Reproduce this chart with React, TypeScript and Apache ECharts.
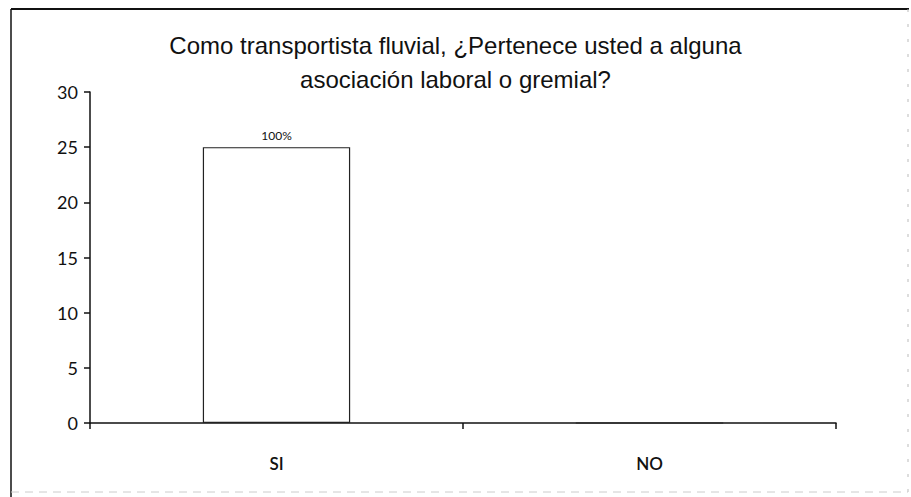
import React, { useEffect, useRef } from "react";
import * as echarts from "echarts";

const categories = ["SI", "NO"];
const values = [25, 0];
const barLabels = ["100%", ""];
const titleText = "Como transportista fluvial, ¿Pertenece usted a alguna\nasociación laboral o gremial?";
const yMin = 0;
const yMax = 30;
const yInterval = 5;

export default function App() {
  const ref = useRef<HTMLDivElement>(null);
  useEffect(() => {
    if (!ref.current) return;
    const chart = echarts.init(ref.current, null, { renderer: "svg" });
    chart.setOption({
      animation: false,
      backgroundColor: "#ffffff",
      title: {
        text: titleText,
        left: "center",
        top: 28,
        padding: 0,
        textStyle: {
          fontFamily: "Liberation Sans",
          fontSize: 24,
          fontWeight: "normal",
          color: "#111",
          lineHeight: 34,
        },
      },
      graphic: [
        { type: "line", shape: { x1: 11, y1: 9, x2: 909, y2: 9 }, style: { stroke: "#111", lineWidth: 2 } },
        { type: "line", shape: { x1: 11, y1: 9, x2: 11, y2: 497 }, style: { stroke: "#111", lineWidth: 1.5 } },
        { type: "line", shape: { x1: 908, y1: 9, x2: 908, y2: 493 }, style: { stroke: "#bbb", lineWidth: 1, lineDash: [3, 12] } },
        { type: "line", shape: { x1: 11, y1: 492, x2: 908, y2: 492 }, style: { stroke: "#ccc", lineWidth: 1, lineDash: [8, 6] } },
      ],
      grid: { left: 90, right: 75, top: 92, bottom: 74 },
      xAxis: {
        type: "category",
        data: categories,
        axisLine: { show: true, lineStyle: { color: "#111", width: 1.5 } },
        axisTick: { show: true, length: 6, alignWithLabel: false, lineStyle: { color: "#111", width: 1.5 } },
        axisLabel: {
          margin: 40,
          fontFamily: "Lato",
          fontSize: 17,
          fontWeight: 600,
          color: "#111",
          verticalAlign: "middle",
        },
      },
      yAxis: {
        type: "value",
        min: yMin,
        max: yMax,
        interval: yInterval,
        splitLine: { show: false },
        axisLine: { show: true, lineStyle: { color: "#111", width: 1.5 } },
        axisTick: { show: true, length: 6, lineStyle: { color: "#111", width: 1.5 } },
        axisLabel: {
          margin: 12,
          fontFamily: "Lato",
          fontSize: 18,
          color: "#111",
        },
      },
      series: [
        {
          type: "bar",
          data: values,
          barWidth: "39.5%",
          itemStyle: { color: "#ffffff", borderColor: "#222", borderWidth: 1.2 },
          label: {
            show: true,
            position: "top",
            distance: 6,
            formatter: (p: any) => barLabels[p.dataIndex],
            fontFamily: "Lato",
            fontSize: 12,
            color: "#111",
          },
        },
      ],
    });
    return () => chart.dispose();
  }, []);
  return (
    <div
      ref={ref}
      style={{ position: "fixed", left: 0, top: 0, width: 911, height: 497 }}
    />
  );
}
